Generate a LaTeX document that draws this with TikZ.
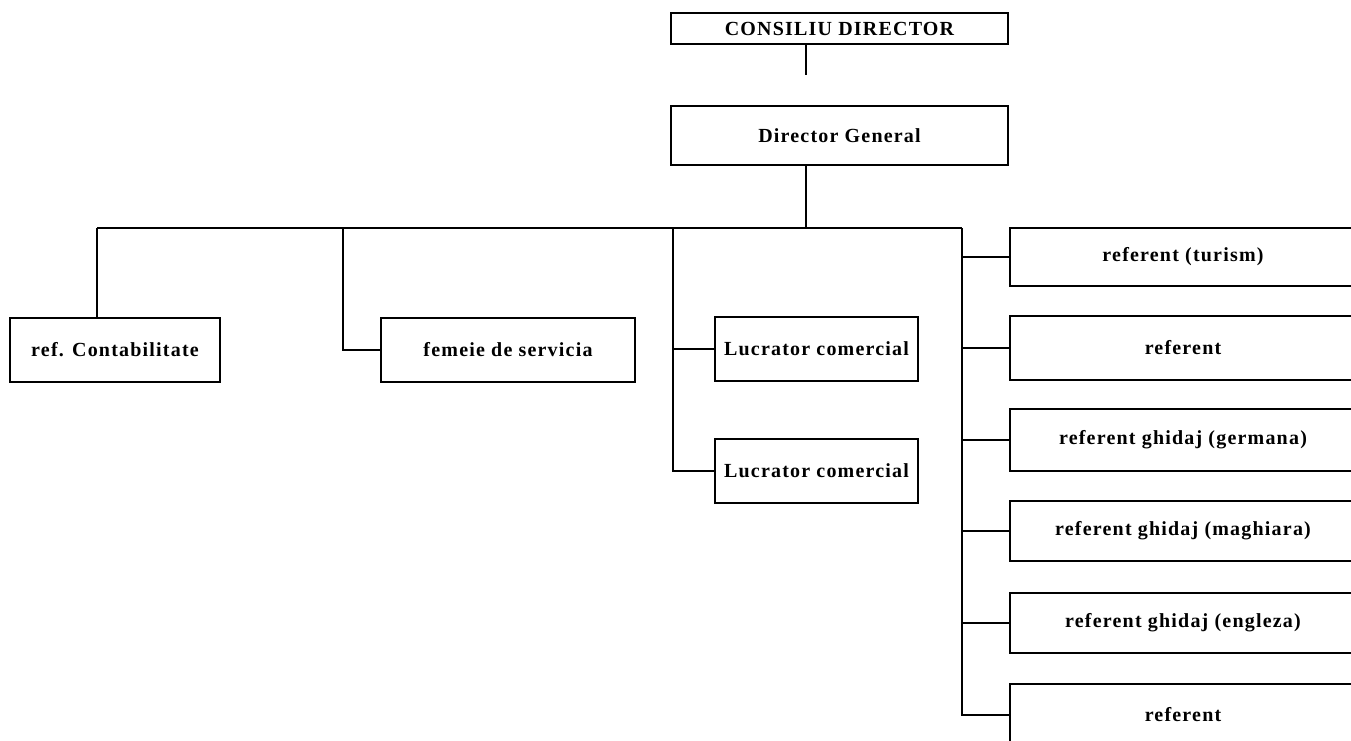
\documentclass[tikz,border=0pt]{standalone}
\usepackage{fontspec}
\newfontfamily\boxfont{Liberation Serif}[LetterSpace=6]
\usepackage{tikz}

\begin{document}
\begin{tikzpicture}[x=1pt,y=-1pt,line width=1.5pt]
  \tikzstyle{box}=[draw,rectangle,inner sep=0pt,minimum width=346pt,text=black,
    font=\boxfont\bfseries\fontsize{20}{22}\selectfont]
  \useasboundingbox (0,0) rectangle (1351,740);

  \node[box,minimum width=337pt,minimum height=31pt] (CD) at (839.5,28.5) {CONSILIU DIRECTOR};
  \node[box,minimum width=337pt,minimum height=59pt] (DG) at (839.5,135.5) {Director General};

  \node[box,minimum width=210pt,minimum height=64pt] (RC) at (115,350) {ref. Contabilitate};
  \node[box,minimum width=254pt,minimum height=64pt] (FS) at (508,350) {femeie de servicia};
  \node[box,minimum width=203pt,minimum height=64pt] (L1) at (816.5,349) {Lucrator comercial};
  \node[box,minimum width=203pt,minimum height=64pt] (L2) at (816.5,471) {Lucrator comercial};

  \node[box,minimum height=58pt] (R1) at (1183,257) {referent (turism)};
  \node[box,minimum height=64pt] (R2) at (1183,348) {referent};
  \node[box,minimum height=62pt] (R3) at (1183,440) {referent ghidaj (germana)};
  \node[box,minimum height=60pt] (R4) at (1183,531) {referent ghidaj (maghiara)};
  \node[box,minimum height=60pt] (R5) at (1183,623) {referent ghidaj (engleza)};
  \node[box,minimum height=62pt] (R6) at (1183,715) {referent};

  \coordinate (T) at (806,228);
  \coordinate (BL) at (97,228);
  \coordinate (B2) at (343,228);
  \coordinate (B3) at (673,228);
  \coordinate (BR) at (962,228);

  \draw (CD.south -| T) -- ++(0,30);
  \draw (DG.south -| T) -- (T);
  \draw (BL) -- (BR);
  \draw (BL) -- (BL |- RC.north);
  \draw (B2) |- (FS.west);
  \draw (B3) |- (L2.west);
  \draw (L1.west) -- (L1.west -| B3);
  \draw (BR) |- (R6.west);
  \foreach \i in {1,...,5}
    \draw (R\i.west) -- (R\i.west -| BR);
\end{tikzpicture}
\end{document}
